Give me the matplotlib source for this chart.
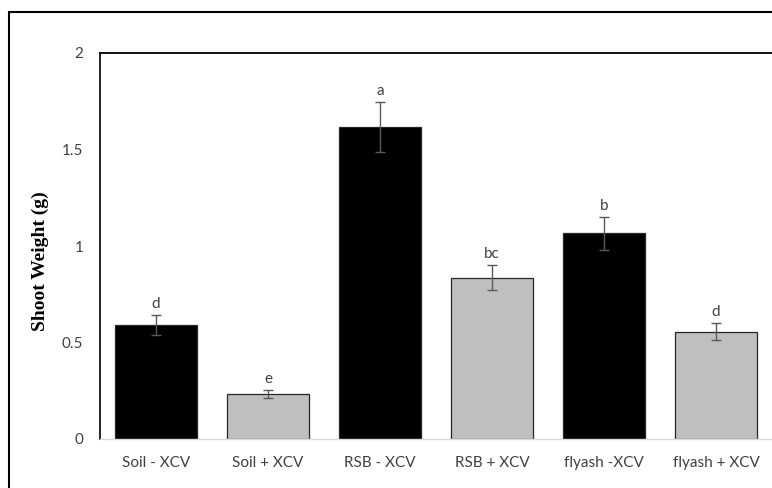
import numpy as np
import matplotlib
matplotlib.use("Agg")
import matplotlib.pyplot as plt
from matplotlib.patches import Rectangle

# data
treatments = ["Soil - XCV", "Soil + XCV", "RSB - XCV", "RSB + XCV", "flyash -XCV", "flyash + XCV"]
shoot_weight = [0.59, 0.235, 1.617, 0.835, 1.066, 0.556]
std_err = [0.05, 0.02, 0.13, 0.065, 0.085, 0.045]
letters = ["d", "e", "a", "bc", "b", "d"]
bar_colors = ["black", "#BFBFBF", "black", "#BFBFBF", "black", "#BFBFBF"]
y_ticks = [0, 0.5, 1, 1.5, 2]
y_ticklabels = ["0", "0.5", "1", "1.5", "2"]

fig = plt.figure(figsize=(7.72, 4.88), dpi=100)
ax = fig.add_axes([100/772, 49/488, 672/772, 386/488])

x = np.arange(len(treatments))
ax.bar(x, shoot_weight, width=0.74, color=bar_colors, edgecolor="#262626", linewidth=0.9, zorder=2)
ax.errorbar(x, shoot_weight, yerr=std_err, fmt="none", ecolor="#595959",
            elinewidth=1.0, capsize=3.8, capthick=1.0, zorder=3)

for xi, v, e, lab in zip(x, shoot_weight, std_err, letters):
    ax.annotate(lab, (xi, v + e), xytext=(0, 3), textcoords="offset points",
                ha="center", va="bottom", fontsize=11, color="#404040", family="Lato")

ax.set_xlim(-0.5, len(treatments) - 0.5)
ax.set_ylim(0, 2)
ax.set_yticks(y_ticks)
ax.set_yticklabels(y_ticklabels)
ax.set_xticks(x)
ax.set_xticklabels(treatments)
ax.tick_params(axis="both", length=0, labelsize=11, labelcolor="#404040")
ax.tick_params(axis="y", pad=12)
ax.tick_params(axis="x", pad=12)
for t in ax.get_xticklabels() + ax.get_yticklabels():
    t.set_family("Lato")

ax.set_ylabel("Shoot Weight (g)", fontsize=14, fontweight="bold", family="Liberation Serif")
ax.yaxis.set_label_coords(-0.076, 0.46)

ax.spines["right"].set_visible(False)
ax.spines["left"].set_color("black")
ax.spines["left"].set_linewidth(1.2)
ax.spines["top"].set_color("black")
ax.spines["top"].set_linewidth(1.3)
ax.spines["bottom"].set_color("#D9D9D9")
ax.spines["bottom"].set_linewidth(1.0)

# outer chart border, running off the right and bottom edges
fig.patches.append(Rectangle((9/772, -0.1), 1.2, 1 - 12/488 + 0.1, transform=fig.transFigure,
                             fill=False, edgecolor="black", linewidth=1.5))

fig.savefig("out.png", dpi=100)
